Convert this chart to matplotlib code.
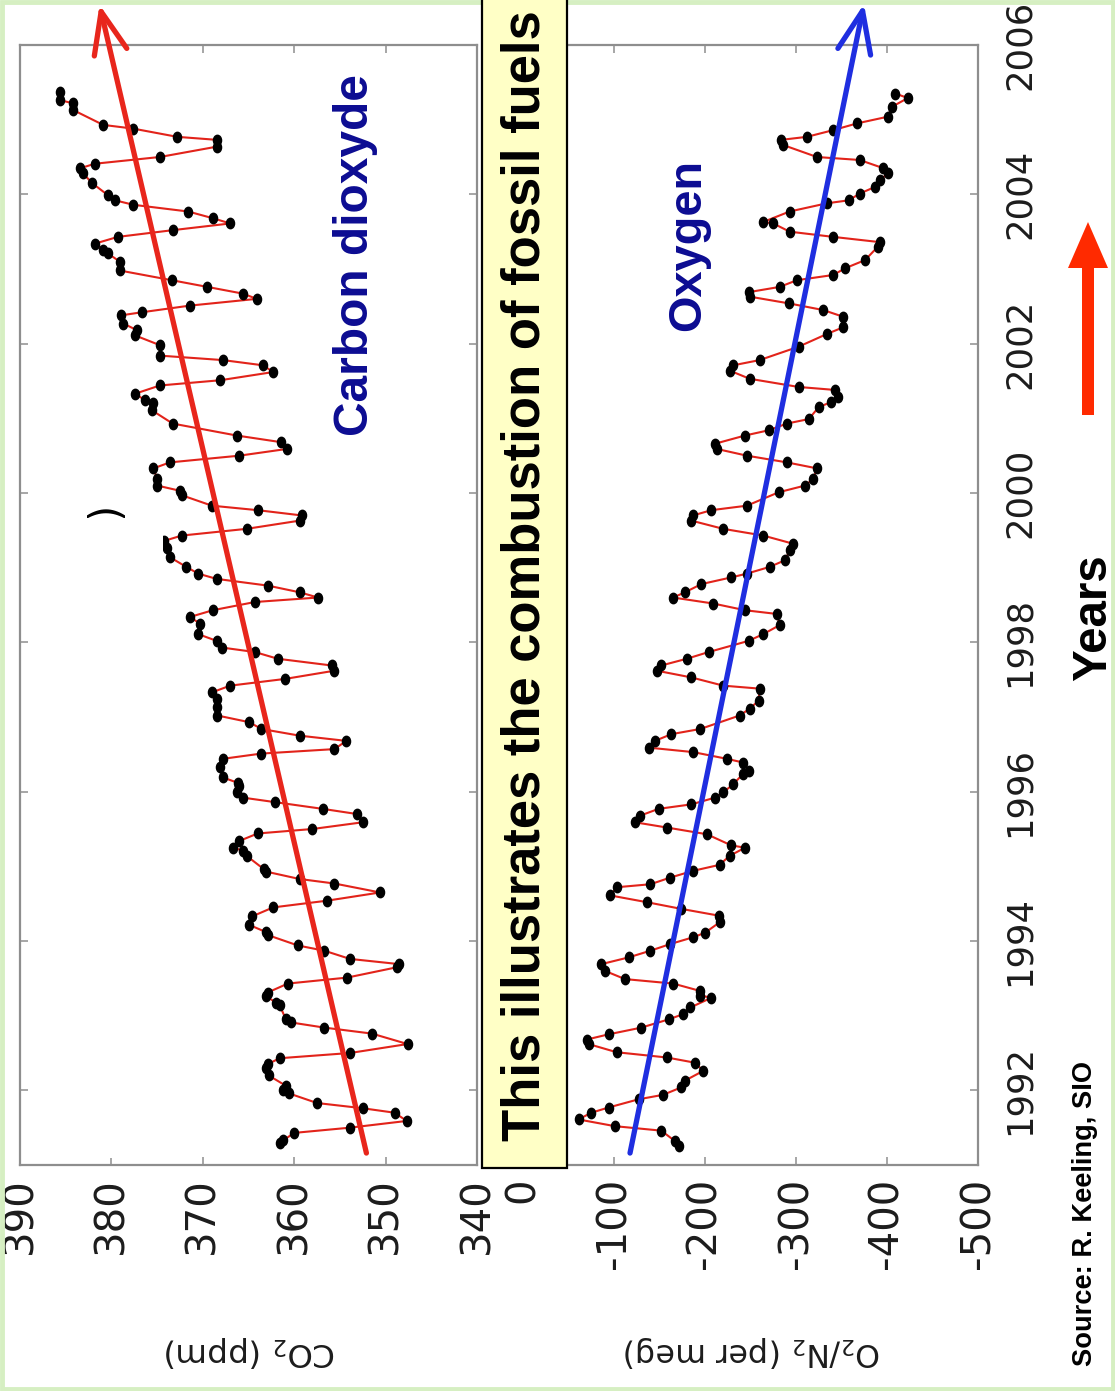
import matplotlib
matplotlib.use('Agg')
import matplotlib.pyplot as plt
from matplotlib.patches import Rectangle, FancyArrow
from matplotlib.path import Path
from matplotlib.transforms import Affine2D

# ---------------- data ----------------
co2_year = [1991.30, 1991.33, 1991.43, 1991.50, 1991.59, 1991.70, 1991.76, 1991.83, 1991.96, 1992.00,
            1992.06, 1992.20, 1992.30, 1992.35, 1992.43, 1992.50, 1992.62, 1992.76, 1992.84, 1992.91,
            1992.95, 1993.14, 1993.17, 1993.27, 1993.31, 1993.43, 1993.51, 1993.65, 1993.69, 1993.76,
            1993.87, 1993.94, 1994.08, 1994.12, 1994.22, 1994.33, 1994.45, 1994.54, 1994.65, 1994.77,
            1994.83, 1994.93, 1994.96, 1995.14, 1995.21, 1995.25, 1995.34, 1995.44, 1995.50, 1995.59,
            1995.70, 1995.77, 1995.86, 1995.92, 1995.99, 1996.08, 1996.12, 1996.19, 1996.33, 1996.44,
            1996.51, 1996.57, 1996.68, 1996.75, 1996.84, 1996.93, 1997.02, 1997.13, 1997.24, 1997.33,
            1997.42, 1997.51, 1997.62, 1997.69, 1997.78, 1997.87, 1997.93, 1998.02, 1998.11, 1998.25,
            1998.34, 1998.43, 1998.54, 1998.60, 1998.67, 1998.76, 1998.85, 1998.92, 1999.01, 1999.14,
            1999.27, 1999.36, 1999.43, 1999.52, 1999.63, 1999.70, 1999.77, 1999.83, 1999.97, 2000.03,
            2000.10, 2000.19, 2000.33, 2000.41, 2000.50, 2000.59, 2000.68, 2000.77, 2000.93, 2001.11,
            2001.20, 2001.24, 2001.33, 2001.44, 2001.51, 2001.62, 2001.71, 2001.78, 2001.84, 2001.98,
            2002.11, 2002.18, 2002.27, 2002.38, 2002.42, 2002.51, 2002.60, 2002.67, 2002.76, 2002.85,
            2002.98, 2003.10, 2003.21, 2003.25, 2003.34, 2003.43, 2003.52, 2003.61, 2003.68, 2003.77,
            2003.86, 2003.92, 2003.99, 2004.15, 2004.28, 2004.35, 2004.41, 2004.50, 2004.64, 2004.73,
            2004.77, 2004.88, 2004.93, 2005.13, 2005.22, 2005.26, 2005.37]
co2_ppm = [361.6, 361.2, 360.0, 353.9, 347.7, 349.0, 352.5, 357.5, 360.6, 361.2,
           360.9, 362.8, 363.1, 362.9, 361.6, 353.9, 347.6, 351.5, 356.7, 360.4,
           360.9, 361.6, 362.0, 363.1, 362.9, 360.7, 354.2, 348.7, 348.5, 353.9,
           356.7, 359.6, 362.9, 363.1, 365.0, 364.6, 362.3, 356.4, 350.6, 355.6,
           359.4, 363.1, 363.3, 365.2, 365.6, 366.7, 366.0, 364.0, 358.0, 352.5,
           353.1, 356.9, 362.1, 365.6, 366.3, 366.0, 366.2, 367.8, 368.1, 367.8,
           363.6, 355.6, 354.3, 359.4, 363.6, 364.9, 368.4, 368.5, 368.4, 369.0,
           367.0, 361.0, 355.6, 355.9, 361.8, 364.3, 367.9, 368.5, 370.5, 370.3,
           371.4, 368.9, 364.3, 357.4, 359.4, 362.9, 368.5, 370.5, 371.8, 373.6,
           373.9, 374.2, 372.3, 365.2, 359.4, 359.2, 364.0, 369.0, 372.3, 372.5,
           375.0, 375.0, 375.4, 373.6, 366.0, 360.8, 361.4, 366.3, 373.3, 375.6,
           375.4, 376.3, 377.4, 374.7, 368.1, 362.3, 363.4, 367.8, 374.7, 374.7,
           377.4, 377.2, 378.7, 378.9, 376.7, 371.4, 364.1, 365.6, 369.5, 373.4,
           379.1, 379.1, 380.4, 380.9, 381.8, 379.3, 373.3, 367.0, 368.9, 371.6,
           377.6, 379.6, 380.4, 382.1, 383.1, 383.4, 381.8, 374.7, 368.4, 368.5,
           372.8, 377.6, 380.9, 384.2, 384.2, 385.6, 385.6]

o2_year = [1991.25, 1991.32, 1991.46, 1991.52, 1991.61, 1991.70, 1991.77, 1991.88, 1991.94, 1992.04,
           1992.13, 1992.26, 1992.37, 1992.44, 1992.51, 1992.62, 1992.68, 1992.75, 1992.84, 1992.95,
           1993.02, 1993.11, 1993.24, 1993.27, 1993.33, 1993.43, 1993.49, 1993.60, 1993.69, 1993.78,
           1993.87, 1993.96, 1994.05, 1994.11, 1994.25, 1994.34, 1994.43, 1994.52, 1994.61, 1994.72,
           1994.76, 1994.85, 1994.94, 1995.02, 1995.14, 1995.25, 1995.28, 1995.43, 1995.52, 1995.59,
           1995.68, 1995.77, 1995.83, 1995.92, 1995.99, 1996.10, 1996.24, 1996.28, 1996.39, 1996.44,
           1996.53, 1996.59, 1996.68, 1996.77, 1996.84, 1997.02, 1997.11, 1997.22, 1997.38, 1997.42,
           1997.53, 1997.62, 1997.69, 1997.78, 1997.87, 1998.02, 1998.11, 1998.23, 1998.38, 1998.43,
           1998.52, 1998.60, 1998.67, 1998.78, 1998.87, 1998.92, 1999.01, 1999.10, 1999.23, 1999.32,
           1999.43, 1999.52, 1999.63, 1999.70, 1999.77, 1999.83, 2000.01, 2000.10, 2000.19, 2000.33,
           2000.41, 2000.50, 2000.59, 2000.66, 2000.77, 2000.84, 2000.93, 2000.99, 2001.15, 2001.22,
           2001.29, 2001.38, 2001.42, 2001.53, 2001.64, 2001.71, 2001.78, 2001.96, 2002.13, 2002.22,
           2002.36, 2002.45, 2002.54, 2002.63, 2002.69, 2002.76, 2002.85, 2002.92, 2003.01, 2003.12,
           2003.30, 2003.36, 2003.43, 2003.50, 2003.61, 2003.63, 2003.77, 2003.88, 2003.92, 2004.01,
           2004.10, 2004.19, 2004.28, 2004.35, 2004.46, 2004.50, 2004.66, 2004.73, 2004.77, 2004.86,
           2004.95, 2005.04, 2005.17, 2005.29, 2005.35]
o2_permeg = [-171, -167, -152, -101, -61, -75, -94, -127, -154, -174,
             -178, -198, -189, -158, -103, -72, -70, -94, -130, -160,
             -176, -184, -207, -195, -195, -165, -112, -90, -86, -116,
             -140, -162, -187, -200, -216, -215, -174, -136, -96, -103,
             -140, -162, -187, -216, -227, -244, -229, -202, -158, -123,
             -129, -149, -185, -211, -220, -231, -242, -248, -242, -224,
             -187, -138, -145, -163, -195, -238, -249, -259, -260, -220,
             -185, -147, -152, -180, -204, -248, -264, -282, -279, -244,
             -209, -165, -178, -196, -229, -246, -271, -288, -293, -297,
             -264, -220, -185, -187, -207, -246, -281, -310, -319, -323,
             -290, -246, -213, -211, -244, -270, -290, -314, -325, -339,
             -346, -343, -303, -249, -227, -231, -260, -303, -334, -352,
             -352, -330, -292, -249, -248, -282, -301, -341, -354, -376,
             -390, -392, -341, -293, -275, -264, -293, -334, -358, -370,
             -387, -392, -401, -396, -370, -323, -286, -284, -312, -341,
             -367, -401, -405, -423, -409]

co2_trend_year = [1991.16, 2006.54]
co2_trend_ppm = [352.1, 381.3]
o2_trend_year = [1991.16, 2006.55]
o2_trend_permeg = [-117.6, -374.7]

year_ticks = [1992, 1994, 1996, 1998, 2000, 2002, 2004, 2006]
year_labels = ['1992', '1994', '1996', '1998', '2000', '2002', '2004', '2006']
co2_ticks = [390, 380, 370, 360, 350, 340]
co2_labels = ['390', '380', '370', '360', '350', '340']
o2_ticks = [0, -100, -200, -300, -400, -500]
o2_labels = ['0', '-100', '-200', '-300', '-400', '-500']

# ---------------- figure ----------------
W, H = 1115, 1391
plt.rcParams['axes.unicode_minus'] = False
plt.rcParams['font.family'] = ['DejaVu Sans']

fig = plt.figure(figsize=(W / 100, H / 100), dpi=100)
fig.patch.set_facecolor('white')


def fbox(l, t, r, b):
    return [l / W, 1 - b / H, (r - l) / W, (b - t) / H]


ax1 = fig.add_axes(fbox(20, 45, 477, 1165))
ax2 = fig.add_axes(fbox(523, 45, 978, 1165))

dot = Path.unit_circle().transformed(Affine2D().scale(0.78, 1.0))
RED = '#e2231a'
SPINE = '#8e8e8e'
TXT = '#1c1c1c'

for ax in (ax1, ax2):
    for s in ax.spines.values():
        s.set_color(SPINE)
        s.set_linewidth(1.6)
    ax.set_ylim(1991, 2006)
    ax.set_yticks(year_ticks)
    ax.tick_params(axis='both', direction='in', length=6, width=1.1, color=SPINE,
                   top=True, right=True, left=True, bottom=True)
    ax.tick_params(axis='x', labelrotation=90, labelsize=29, pad=9, labelcolor=TXT)

ax1.set_xlim(390, 340)
ax1.set_xticks(co2_ticks)
ax1.set_xticklabels(co2_labels)
ax1.tick_params(axis='y', labelleft=False, labelright=False)

ax2.set_xlim(0, -500)
ax2.set_xticks(o2_ticks)
ax2.set_xticklabels(o2_labels)
ax2.set_yticklabels(year_labels)
ax2.tick_params(axis='y', labelleft=False, labelright=True, labelrotation=90,
                labelsize=25.5, pad=18, labelcolor=TXT)
for lab in ax2.get_yticklabels():
    lab.set_va('center')

# data curves
ax1.plot(co2_ppm, co2_year, color=RED, lw=1.5, zorder=2)
ax1.plot(co2_ppm, co2_year, ls='none', marker=dot, ms=7.5, color='black', zorder=3)
ax2.plot(o2_permeg, o2_year, color=RED, lw=1.5, zorder=2)
ax2.plot(o2_permeg, o2_year, ls='none', marker=dot, ms=7.5, color='black', zorder=3)

# trend arrows
ax1.annotate('', xy=(co2_trend_ppm[1], co2_trend_year[1]),
             xytext=(co2_trend_ppm[0], co2_trend_year[0]),
             arrowprops=dict(arrowstyle='->,head_length=1.5,head_width=0.6', color='#e8261c',
                             lw=3.8, shrinkA=0, shrinkB=0, mutation_scale=20, clip_on=False),
             annotation_clip=False, zorder=4)
ax2.annotate('', xy=(o2_trend_permeg[1], o2_trend_year[1]),
             xytext=(o2_trend_permeg[0], o2_trend_year[0]),
             arrowprops=dict(arrowstyle='->,head_length=1.5,head_width=0.6', color='#1f2ee0',
                             lw=3.8, shrinkA=0, shrinkB=0, mutation_scale=20, clip_on=False),
             annotation_clip=False, zorder=4)

# ---------------- overlay in pixel coordinates ----------------
ov = fig.add_axes([0, 0, 1, 1])
ov.set_xlim(0, W)
ov.set_ylim(H, 0)
ov.axis('off')
ov.patch.set_visible(False)
ov.set_zorder(5)

renderer = fig.canvas.get_renderer()


def fit(t, target, along='y'):
    bb = t.get_window_extent(renderer)
    cur = bb.height if along == 'y' else bb.width
    t.set_fontsize(t.get_fontsize() * target / cur)


# light green frame
ov.add_patch(Rectangle((2, 2), W - 4, H - 4, fill=False, ec='#d6efc2', lw=3.5))

# artefact: partial parenthesis, lower part hidden by a white patch
ov.text(106, 510, ')', rotation=90, ha='center', va='center', fontsize=30, color='black',
        zorder=0.5)
ov.add_patch(Rectangle((72, 518), 91, 640, fc='white', ec='none', zorder=1))

# white box behind "Oxygen"
ov.add_patch(Rectangle((645, 135), 80, 220, fc='white', ec='none'))

# yellow banner
ov.add_patch(Rectangle((482, -5), 85, 1173, fc='#ffffc6', ec='black', lw=1.6))
t = ov.text(525, 1141, 'This illustrates the combustion of fossil fuels', rotation=90,
            ha='center', va='bottom', fontsize=30, fontweight='bold', color='black',
            family=['Liberation Sans', 'DejaVu Sans'])
fit(t, 1134)

t = ov.text(356, 436, 'Carbon dioxyde', rotation=90, ha='center', va='bottom', fontsize=30,
            fontweight='bold', color='#0c0c92', family=['Liberation Sans', 'DejaVu Sans'])
fit(t, 362)
t = ov.text(688, 331, 'Oxygen', rotation=90, ha='center', va='bottom', fontsize=30,
            fontweight='bold', color='#0c0c92', family=['Liberation Sans', 'DejaVu Sans'])
fit(t, 172)
t = ov.text(1094, 681, 'Years', rotation=90, ha='center', va='bottom', fontsize=30,
            fontweight='bold', color='black', family=['Liberation Sans', 'DejaVu Sans'])
fit(t, 127)
t = ov.text(1085, 1366, 'Source: R. Keeling, SIO', rotation=90, ha='center', va='bottom',
            fontsize=16, fontweight='bold', color='black', family=['Liberation Sans', 'DejaVu Sans'])
fit(t, 305)

# axis titles (rotated upside down)
t = ov.text(250, 1352, r'CO$_2$ (ppm)', rotation=180, ha='center', va='center', fontsize=24,
            color=TXT)
fit(t, 172, along='x')
t = ov.text(753, 1352, r'O$_2$/N$_2$ (per meg)', rotation=180, ha='center', va='center',
            fontsize=24, color=TXT)
fit(t, 257, along='x')

# red arrow next to "Years"
ov.add_patch(FancyArrow(1088, 415, 0, -193, width=12, head_width=40, head_length=46,
                        length_includes_head=True, color='#ff2a00', lw=0))

fig.savefig('out.png', dpi=100, facecolor='white')
